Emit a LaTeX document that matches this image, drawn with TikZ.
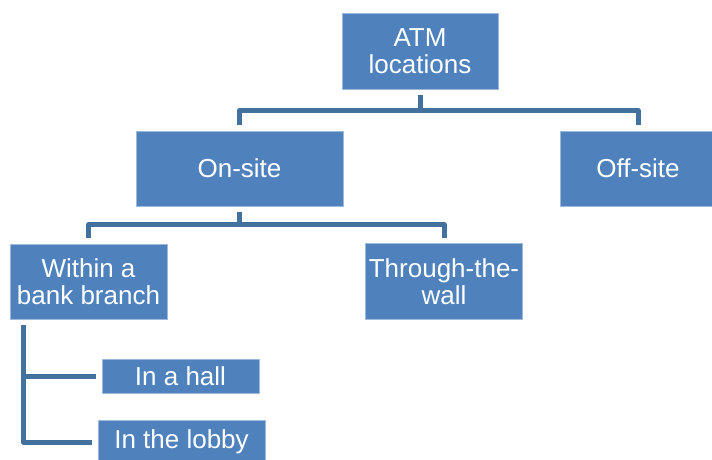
\documentclass[tikz,border=0pt]{standalone}
\usepackage{fontspec}
\setmainfont{Liberation Sans}
\usetikzlibrary{calc}
\definecolor{boxblue}{HTML}{4F81BD}
\definecolor{linkblue}{HTML}{41719C}
\begin{document}
\begin{tikzpicture}[x=1pt,y=-1pt,
  box/.style={rectangle, fill=boxblue, draw=boxblue!55!white, line width=0.6pt,
    text=white, align=center, inner sep=0pt, outer sep=6pt,
    font=\fontsize{26}{27}\selectfont},
  conn/.style={draw=linkblue, line width=5pt, line join=round}]
\useasboundingbox (0,0) rectangle (712,459);
\node[box, minimum width=156pt, minimum height=76pt] (atm) at (420,51) {ATM\\locations};
\node[box, minimum width=207pt, minimum height=75pt] (onsite) at (239.5,168.5) {On-site};
\node[box, minimum width=156pt, minimum height=75pt] (offsite) at (638,168.5) {Off-site};
\node[box, minimum width=157pt, minimum height=75pt] (within) at (88.5,281.5) {Within a\\bank branch};
\node[box, minimum width=157pt, minimum height=76pt] (through) at (444,281.5) {Through-the-\\wall};
\node[box, minimum width=157pt, minimum height=34pt] (hall) at (180.5,376) {In a hall};
\node[box, minimum width=167pt, minimum height=44pt] (lobby) at (181.5,442) {In the lobby};
\draw[conn] (onsite.north) -- ++(0,-14.5) -| (offsite.north);
\draw[conn] (atm.south) -- ++(0,15.5);
\draw[conn] (within.north) -- ++(0,-13.5) -| (through.north);
\draw[conn] (onsite.south) -- ++(0,12.5);
\coordinate (trunk) at ($(within.south west)+(19.5,0)$);
\draw[conn] (trunk) |- (lobby.west);
\draw[conn] (trunk) |- (hall.west);
\end{tikzpicture}
\end{document}
